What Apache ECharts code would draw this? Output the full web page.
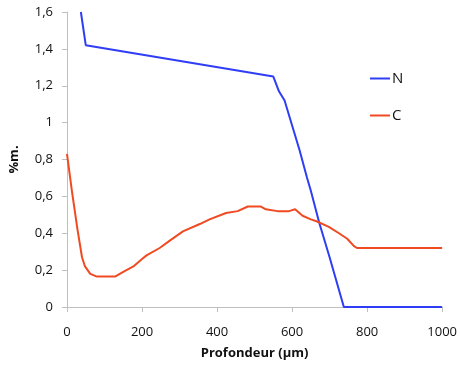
<!DOCTYPE html>
<html>
<head>
<meta charset="utf-8">
<script src="https://cdn.jsdelivr.net/npm/echarts@6/dist/echarts.min.js"></script>
<style>html,body{margin:0;padding:0;background:#fff}#c{width:460px;height:374px}</style>
</head>
<body>
<div id="c"></div>
<script>
const nDepth = [37, 50, 550, 565, 580, 620, 640, 650, 672, 700, 738, 1000];
const nValues = [1.6, 1.42, 1.25, 1.17, 1.12, 0.85, 0.70, 0.63, 0.46, 0.27, 0, 0];
const cDepth = [0, 13, 28, 40, 48, 62, 80, 128, 150, 177, 200, 212, 247, 274, 309, 354, 380, 424, 455, 482, 517, 530, 561, 592, 608, 628, 650, 665, 698, 725, 747, 765, 773, 1000];
const cValues = [0.83, 0.63, 0.42, 0.27, 0.22, 0.18, 0.165, 0.165, 0.19, 0.22, 0.26, 0.28, 0.32, 0.36, 0.41, 0.45, 0.475, 0.51, 0.52, 0.545, 0.545, 0.53, 0.52, 0.52, 0.53, 0.495, 0.475, 0.465, 0.435, 0.40, 0.37, 0.33, 0.32, 0.32];
const seriesNames = ['N', 'C'];
const xTitle = 'Profondeur (μm)';
const yTitle = '%m.';

const font = '"Open Sans", "Liberation Sans", sans-serif';
const chart = echarts.init(document.getElementById('c'), null, {renderer: 'canvas'});
const axisCommon = {
  axisLine: {show: true, lineStyle: {color: '#BFBFBF', width: 1}},
  axisTick: {show: true, inside: false, length: 5, lineStyle: {color: '#BFBFBF'}},
  splitLine: {show: false},
  axisLabel: {color: '#111', fontFamily: font, fontSize: 13},
  nameTextStyle: {color: '#111', fontFamily: font, fontSize: 13, fontWeight: 'bold'}
};
chart.setOption({
  animation: false,
  backgroundColor: '#fff',
  grid: {left: 67, right: 17, top: 12, bottom: 67, containLabel: false},
  legend: {
    orient: 'vertical', left: 365, top: 66, itemWidth: 20, itemHeight: 14, itemGap: 22,
    icon: 'path://M0,6 L20,6 L20,8 L0,8 Z',
    textStyle: {color: '#111', fontFamily: font, fontSize: 15, padding: [0, 0, 0, -3]},
    data: seriesNames
  },
  xAxis: Object.assign({}, axisCommon, {
    type: 'value', min: 0, max: 1000, interval: 200,
    name: xTitle, nameLocation: 'middle', nameGap: 40,
    axisLabel: Object.assign({}, axisCommon.axisLabel, {margin: 19, formatter: v => String(v)})
  }),
  yAxis: Object.assign({}, axisCommon, {
    type: 'value', min: 0, max: 1.6, interval: 0.2,
    name: yTitle, nameLocation: 'middle', nameGap: 46, nameRotate: 90,
    axisLabel: Object.assign({}, axisCommon.axisLabel, {margin: 14,
      formatter: v => (Math.round(v * 10) / 10).toString().replace('.', ',')})
  }),
  series: [
    {name: seriesNames[0], type: 'line', symbol: 'none', lineStyle: {color: '#2F3EF5', width: 2}, itemStyle: {color: '#2F3EF5'},
     data: nDepth.map((d, i) => [d, nValues[i]])},
    {name: seriesNames[1], type: 'line', symbol: 'none', lineStyle: {color: '#F04A22', width: 2}, itemStyle: {color: '#F04A22'},
     data: cDepth.map((d, i) => [d, cValues[i]])}
  ]
});
</script>
</body>
</html>
